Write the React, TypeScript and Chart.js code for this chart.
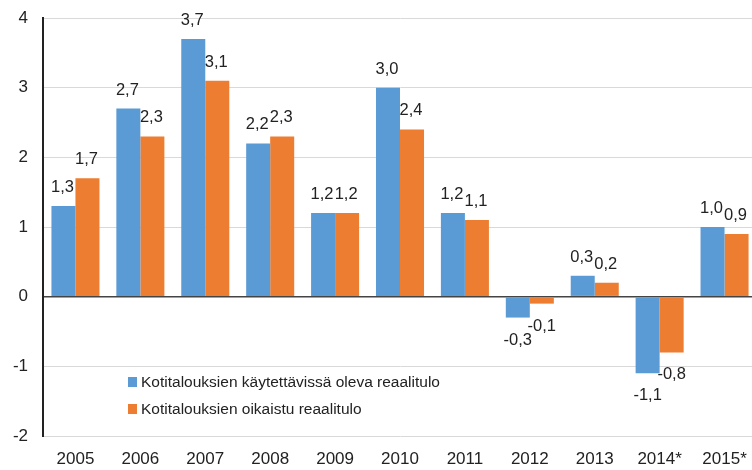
import React, { useEffect, useRef } from "react";
import { Chart, registerables } from "chart.js";

Chart.register(...registerables);

const categories = ["2005", "2006", "2007", "2008", "2009", "2010", "2011", "2012", "2013", "2014*", "2015*"];
const seriesNames = [
  "Kotitalouksien käytettävissä oleva reaalitulo",
  "Kotitalouksien oikaistu reaalitulo",
];
const disposableIncome = [1.3, 2.7, 3.7, 2.2, 1.2, 3.0, 1.2, -0.3, 0.3, -1.1, 1.0];
const adjustedIncome = [1.7, 2.3, 3.1, 2.3, 1.2, 2.4, 1.1, -0.1, 0.2, -0.8, 0.9];
const yTicks = [-2, -1, 0, 1, 2, 3, 4];
const colors = ["#5B9BD5", "#ED7D31"];

const FONT = "'Liberation Sans', Arial, sans-serif";

const labelPlugin = {
  id: "valueLabels",
  afterDatasetsDraw(chart: any) {
    const ctx = chart.ctx;
    ctx.save();
    ctx.font = `16.5px ${FONT}`;
    ctx.fillStyle = "#222";
    ctx.textAlign = "center";
    ctx.textBaseline = "alphabetic";
    chart.data.datasets.forEach((ds: any, i: number) => {
      const meta = chart.getDatasetMeta(i);
      meta.data.forEach((bar: any, j: number) => {
        const v = ds.data[j];
        const txt = v.toFixed(1).replace(".", ",");
        if (v >= 0) {
          ctx.fillText(txt, bar.x - 1, bar.y - 14);
        } else {
          ctx.fillText(txt, bar.x, bar.y + 27);
        }
      });
    });
    ctx.restore();
  },
};

const legendPlugin = {
  id: "innerLegend",
  afterDraw(chart: any) {
    const ctx = chart.ctx;
    ctx.save();
    ctx.font = `15.5px ${FONT}`;
    ctx.textBaseline = "middle";
    ctx.textAlign = "left";
    const x0 = 128;
    const y0 = 382;
    seriesNames.forEach((name, i) => {
      const y = y0 + i * 27;
      ctx.fillStyle = colors[i];
      ctx.fillRect(x0, y - 5, 9, 10);
      ctx.fillStyle = "#222";
      ctx.fillText(name, x0 + 13, y + 1);
    });
    ctx.restore();
  },
};

export default function App() {
  const ref = useRef<HTMLCanvasElement>(null);
  useEffect(() => {
    document.body.style.margin = "0";
    document.body.style.overflow = "hidden";
    const chart = new Chart(ref.current!, {
      type: "bar",
      data: {
        labels: categories,
        datasets: [
          { label: seriesNames[0], data: disposableIncome, backgroundColor: colors[0], categoryPercentage: 0.74, barPercentage: 1 },
          { label: seriesNames[1], data: adjustedIncome, backgroundColor: colors[1], categoryPercentage: 0.74, barPercentage: 1 },
        ],
      },
      options: {
        animation: false,
        responsive: false,
        maintainAspectRatio: false,
        layout: { padding: { top: 18, right: 0, bottom: 0, left: 0 } },
        plugins: { legend: { display: false }, tooltip: { enabled: false } },
        scales: {
          x: {
            grid: { display: false, drawTicks: false },
            border: { display: false },
            ticks: { color: "#222", font: { family: FONT, size: 17 }, padding: 13, maxRotation: 0 },
            afterFit: (s: any) => { s.height = 34; s.paddingLeft = 0; s.paddingRight = 0; },
          },
          y: {
            min: yTicks[0],
            max: yTicks[yTicks.length - 1],
            afterBuildTicks: (s: any) => { s.ticks = yTicks.map((v) => ({ value: v })); },
            ticks: { color: "#222", font: { family: FONT, size: 17 }, padding: 15 },
            grid: {
              drawTicks: false,
              color: (c: any) => (c.tick && c.tick.value === 0 ? "#444" : "#d9d9d9"),
              lineWidth: (c: any) => (c.tick && c.tick.value === 0 ? 1.5 : 1),
            },
            border: { display: true, color: "#222", width: 2 },
            afterFit: (s: any) => { s.width = 43; s.paddingTop = 0; s.paddingBottom = 0; },
          },
        },
      },
      plugins: [labelPlugin, legendPlugin],
    });
    return () => chart.destroy();
  }, []);
  return <canvas ref={ref} width={757} height={470} style={{ display: "block" }} />;
}
